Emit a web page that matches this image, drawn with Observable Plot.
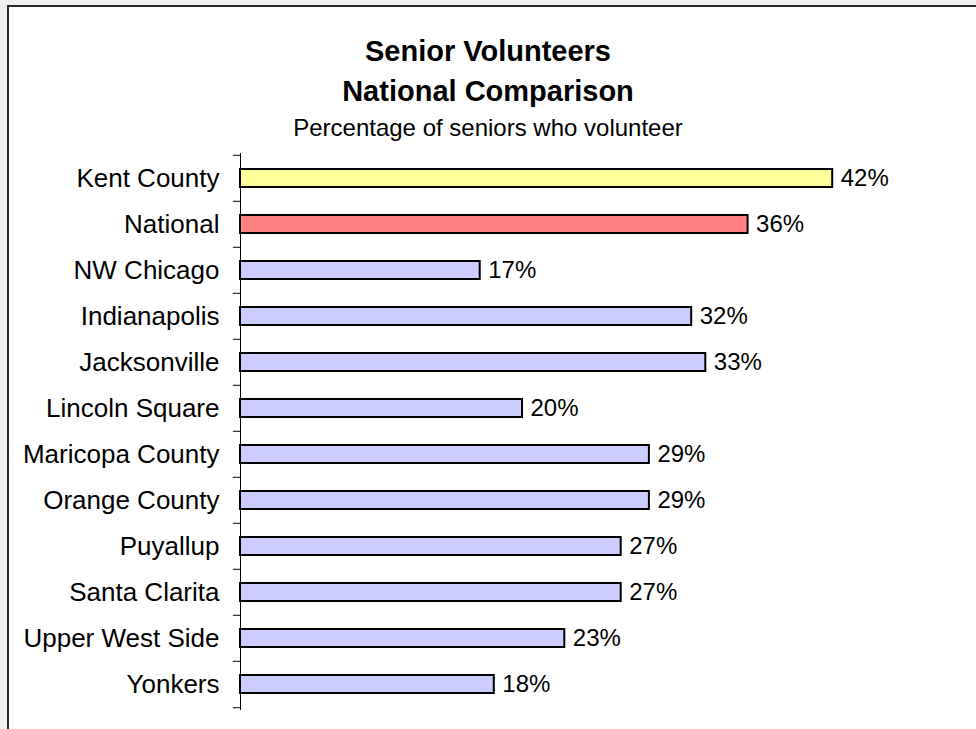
<!DOCTYPE html>
<html>
<head>
<meta charset="utf-8">
<script src="https://cdn.jsdelivr.net/npm/d3@7"></script>
<script src="https://cdn.jsdelivr.net/npm/@observablehq/plot@0.6"></script>
<style>
  html, body { margin: 0; padding: 0; background: #f0f0f0; width: 976px; height: 729px; overflow: hidden; font-family: "Liberation Sans", Arial, sans-serif; }
  #frame { position: absolute; left: 7px; top: 5px; right: 0; bottom: 0; background: #fff; border-left: 2px solid #2a2a2a; border-top: 2px solid #2a2a2a; }
  .t { position: absolute; left: 0; width: 976px; text-align: center; color: #000; white-space: nowrap; }
  #t1 { top: 33px; font-size: 29px; font-weight: bold; line-height: 36px; }
  #t2 { top: 73px; font-size: 29px; font-weight: bold; line-height: 36px; }
  #sub { top: 113px; font-size: 24px; line-height: 30px; }
  #chart { position: absolute; left: 0; top: 140px; }
</style>
</head>
<body>
<div id="frame"></div>
<div class="t" id="t1">Senior Volunteers</div>
<div class="t" id="t2">National Comparison</div>
<div class="t" id="sub">Percentage of seniors who volunteer</div>
<div id="chart"></div>
<script>
const categories = ["Kent County", "National", "NW Chicago", "Indianapolis", "Jacksonville", "Lincoln Square", "Maricopa County", "Orange County", "Puyallup", "Santa Clarita", "Upper West Side", "Yonkers"];
const values = [42, 36, 17, 32, 33, 20, 29, 29, 27, 27, 23, 18];
const barColors = ["#ffff99", "#ff8080", "#ccccff", "#ccccff", "#ccccff", "#ccccff", "#ccccff", "#ccccff", "#ccccff", "#ccccff", "#ccccff", "#ccccff"];

const data = categories.map((c, i) => ({category: c, value: values[i], color: barColors[i]}));
const lastCat = categories[categories.length - 1];

const W = 976, H = 589, mTop = 13, mBottom = 19;
const step = (H - mTop - mBottom) / categories.length;

const plot = Plot.plot({
  width: W,
  height: H,
  marginLeft: 240,
  marginRight: 31,
  marginTop: mTop,
  marginBottom: mBottom,
  style: {fontFamily: "'Liberation Sans', Arial, sans-serif", background: "transparent", color: "#000"},
  x: {domain: [0, 50], axis: null},
  y: {domain: categories, paddingInner: 0.6, paddingOuter: 0.3, label: null},
  marks: [
    Plot.axisY({tickSize: 0, tickPadding: 21, fontSize: 26, label: null, fill: "#000"}),
    Plot.barX(data, {x: "value", y: "category", fill: "color", stroke: "#000", strokeWidth: 2}),
    Plot.text(data, {x: "value", y: "category", text: d => d.value + "%", textAnchor: "start", dx: 8, fontSize: 24, fill: "#000"}),
    Plot.ruleY(categories, {y: d => d, x1: -0.5, x2: 0, dy: -step / 2, stroke: "#000", strokeWidth: 1}),
    Plot.ruleY([lastCat], {y: d => d, x1: -0.5, x2: 0, dy: step / 2, stroke: "#000", strokeWidth: 1}),
    Plot.ruleX([0], {stroke: "#000", strokeWidth: 1})
  ]
});
document.getElementById("chart").appendChild(plot);
</script>
</body>
</html>
